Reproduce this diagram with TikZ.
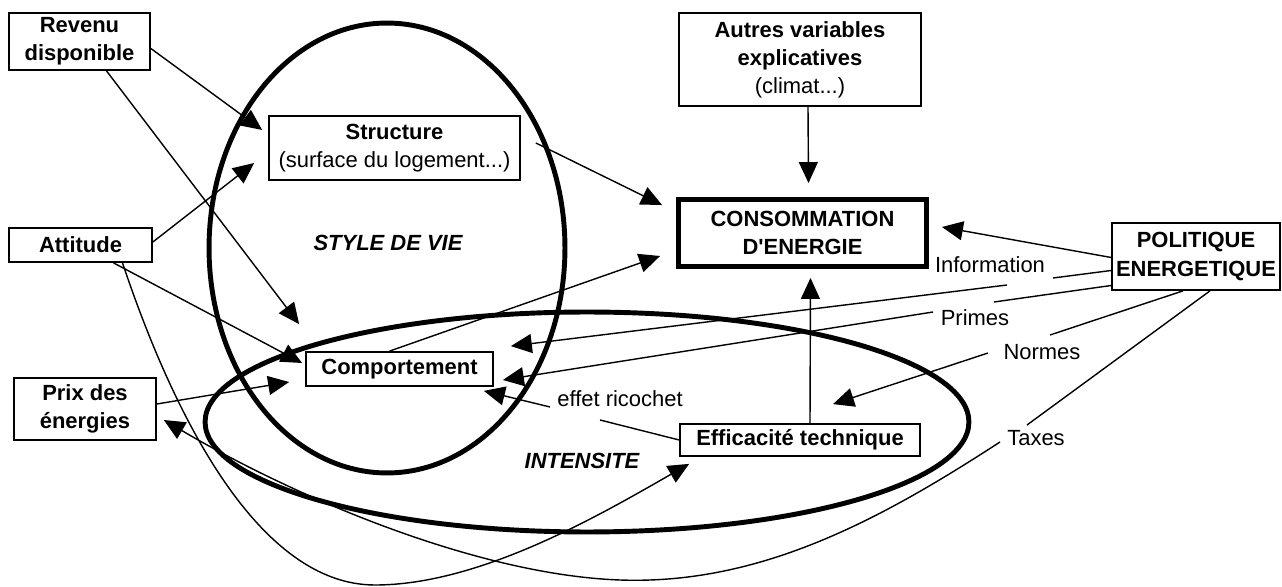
\documentclass[tikz,border=0pt]{standalone}
\usepackage{fontspec}
\setmainfont{Liberation Sans}[Ligatures=TeXOff]
\usetikzlibrary{calc,arrows.meta}

\begin{document}
\begin{tikzpicture}[
  x=0.02cm, y=-0.02cm,
  every node/.style={align=center,inner sep=0pt,
    font=\fontsize{12.5}{16}\selectfont},
  box/.style={draw,fill=white,line width=1pt,font=\fontsize{12.5}{16}\selectfont\bfseries},
  lbl/.style={font=\fontsize{12.5}{16}\selectfont},
  zone/.style={font=\fontsize{12.5}{16}\selectfont\bfseries\itshape},
  ring/.style={line width=2.8pt},
  every path/.style={line width=0.8pt},
  arr/.style={-{Triangle[length=0.42cm,width=0.38cm]}}
]
\useasboundingbox (0,0) rectangle (1282,587);

% the two zones
\draw[ring] (387,248) ellipse [x radius=3.56cm, y radius=4.5cm];
\draw[ring] (587,422) ellipse [x radius=7.64cm, y radius=2.2cm];
\node[zone] (style) at (388,243) {STYLE DE VIE};
\node[zone] (intens) at (582,461) {INTENSITE};

% boxes
\node[box,minimum width=2.82cm,minimum height=1.14cm] (revenu) at (79.5,41.5)
  {Revenu\\disponible};
\node[box,minimum width=5.02cm,minimum height=1.28cm] (structure) at (394.5,148)
  {Structure\\\mdseries(surface du logement...)};
\node[box,minimum width=4.84cm,minimum height=1.86cm] (autres) at (800,59.5)
  {Autres variables\\explicatives\\\mdseries(climat...)};
\node[box,line width=2.8pt,minimum width=4.96cm,minimum height=1.34cm] (conso) at (802.5,233)
  {CONSOMMATION\\D'ENERGIE};
\node[box,minimum width=3.36cm,minimum height=1.34cm] (politique) at (1196,256.5)
  {POLITIQUE\\ENERGETIQUE};
\node[box,minimum width=2.86cm,minimum height=0.68cm] (attitude) at (80.5,245)
  {Attitude};
\node[box,minimum width=2.84cm,minimum height=1.24cm] (prix) at (85,409)
  {Prix des\\énergies};
\node[box,minimum width=3.74cm,minimum height=0.68cm] (comport) at (399.5,369)
  {Comportement};
\node[box,minimum width=4.80cm,minimum height=0.64cm] (efficacite) at (800,440)
  {Efficacité technique};

% labels of the policy links
\node[lbl] (info) at (990,265) {Information};
\node[lbl] (primes) at (975,318) {Primes};
\node[lbl] (normes) at (1042,352) {Normes};
\node[lbl] (taxes) at (1036,438) {Taxes};
\node[lbl] (ricochet) at (620,399) {effet ricochet};

\coordinate (info-r) at (1053,278);
\coordinate (info-l) at (1007,285);
\coordinate (prim-r) at (994,302);
\coordinate (prim-l) at (933,312);
\coordinate (norm-r) at (1050,335);
\coordinate (norm-l) at (988,353);
\coordinate (tax-r) at (1027,425);
\coordinate (tax-l) at (1000,442);
\coordinate (rico-r) at (600,420);
\coordinate (rico-l) at (550,407);

% links
\draw[arr] ($(revenu.east)+(0,7)$) -- ($(structure.west)+(-6,-18)$);
\draw[arr] ($(revenu.south)+(27,0)$) -- ($(comport.north west)+(-6,-27)$);
\draw[arr] ($(attitude.east)+(0,-3)$) -- ($(structure.west)+(-14,15)$);
\draw[arr] ($(attitude.south)+(33,0)$) -- ($(comport.west)+(-3,-6)$);
\draw[arr] ($(prix.east)+(0,-5)$) -- ($(comport.west)+(-16,13)$);
\draw[arr] ($(structure.east)+(15,-5)$) -- ($(conso.north west)+(-14,8)$);
\draw[arr] ($(comport.north)+(-10,0)$) -- ($(conso.west)+(-16,23)$);
\draw[arr] ($(autres.south)+(8,0)$) -- ($(conso.north)+(6,-14)$);
\draw[arr] ($(efficacite.north)+(10,0)$) -- ($(conso.south)+(8,9)$);
\draw[arr] ($(politique.west)+(0,1)$) -- ($(conso.east)+(13,-6)$);

\draw ($(politique.west)+(0,14)$) -- (info-r);
\draw[arr] (info-l) -- ($(comport.north east)+(17,-5)$);
\draw ($(politique.west)+(0,29)$) -- (prim-r);
\draw[arr] (prim-l) -- ($(comport.east)+(9,11)$);
\draw ($(politique.south)+(-13,0)$) -- (norm-r);
\draw[arr] (norm-l) -- ($(efficacite.north)+(33,-19)$);
\draw ($(politique.south)+(14,0)$) -- (tax-r);
\draw[arr] (tax-l) .. controls (880,520) and (760,585) .. (620,580)
  .. controls (480,575) and (300,500) .. ($(prix.east)+(7,11)$);

\draw (efficacite.west) -- (rico-r);
\draw[arr] (rico-l) -- ($(comport.south east)+(-10,4)$);

\draw[arr] ($(attitude.south)+(42,0)$) .. controls (175,420) and (260,585) .. (375,585)
  .. controls (480,585) and (600,515) .. ($(efficacite.south west)+(10,7)$);
\end{tikzpicture}
\end{document}
